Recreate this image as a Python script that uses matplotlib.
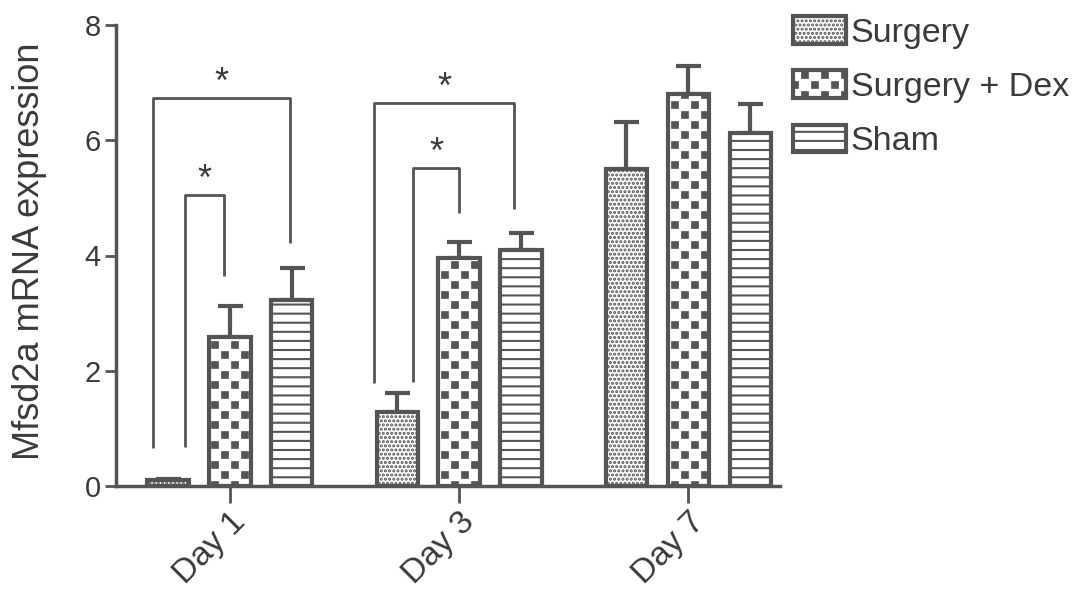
import warnings
import numpy as np
import matplotlib
matplotlib.use("Agg")
import matplotlib.pyplot as plt
import matplotlib.hatch as mhatch
import matplotlib.transforms as mtransforms
from matplotlib.path import Path

warnings.filterwarnings("ignore")

plt.rcParams.update({"font.family": ["Liberation Sans", "DejaVu Sans"],
                     "hatch.linewidth": 1.5})

days = ["Day 1", "Day 3", "Day 7"]
groups = ["Surgery", "Surgery + Dex", "Sham"]
surgery = [0.10, 1.29, 5.50]
surgery_err = [0.03, 0.32, 0.82]
dex = [2.58, 3.96, 6.80]
dex_err = [0.55, 0.28, 0.49]
sham = [3.23, 4.10, 6.13]
sham_err = [0.56, 0.29, 0.50]

# significance brackets: day, left x, right x (offset in group), left foot, top, right foot
brackets = [(0, -0.336, 0.26, 0.66, 6.74, 4.22),
            (0, -0.196, -0.026, 0.68, 5.05, 3.65),
            (1, -0.37, 0.24, 1.79, 6.65, 4.81),
            (1, -0.20, 0.0, 1.80, 5.52, 4.74)]

GRAY = "#545454"
TXT = "#3a3a3a"


class CheckerHatch(mhatch.HatchPatternBase):
    # checkerboard of small squares, picked by '#'
    def __init__(self, hatch, density):
        self.n = 10 if "#" in hatch else 0
        self.num_vertices = (self.n * self.n // 2) * 5

    def set_vertices_and_codes(self, vertices, codes):
        n = self.n
        cell = 1.0 / n
        h = 0.28 * cell
        k = 0
        for i in range(n):
            for j in range(n):
                if (i + j) % 2:
                    continue
                cx, cy = (i + 0.5) * cell, (j + 0.5) * cell
                vertices[k:k + 5] = [[cx - h, cy - h], [cx + h, cy - h],
                                     [cx + h, cy + h], [cx - h, cy + h],
                                     [cx - h, cy - h]]
                codes[k:k + 5] = [Path.MOVETO, Path.LINETO, Path.LINETO,
                                  Path.LINETO, Path.CLOSEPOLY]
                k += 5


class RuledHatch(mhatch.HatchPatternBase):
    # horizontal lines, 11 per inch, picked by '_'
    def __init__(self, hatch, density):
        self.n = 11 if "_" in hatch else 0
        self.num_vertices = self.n * 2

    def set_vertices_and_codes(self, vertices, codes):
        for i in range(self.n):
            y = (i + 0.5) / self.n
            vertices[2 * i:2 * i + 2] = [[0.0, y], [1.0, y]]
            codes[2 * i:2 * i + 2] = [Path.MOVETO, Path.LINETO]


mhatch._hatch_types.extend([CheckerHatch, RuledHatch])

fig = plt.figure(figsize=(10.87, 6.01), dpi=100)
ax = fig.add_axes([116 / 1087, 1 - 486 / 601, 664 / 1087, 461 / 601])

x = np.arange(len(days))
offsets = [-0.27, 0.0, 0.27]
hatches = ["....", "#", "_"]
width = 0.18
for vals, errs, off, hatch, lab in zip([surgery, dex, sham],
                                       [surgery_err, dex_err, sham_err],
                                       offsets, hatches, groups):
    ax.errorbar(x + off, vals, yerr=[np.zeros(len(errs)), errs], fmt="none",
                ecolor=GRAY, elinewidth=3, capsize=9, capthick=3, zorder=1)
    ax.bar(x + off, vals, width, color="white", edgecolor=GRAY, linewidth=3,
           hatch=hatch, label=lab, zorder=2)

for d, xl, xr, yl, yt, yr in brackets:
    ax.plot([d + xl, d + xl, d + xr, d + xr], [yl, yt, yt, yr],
            color=GRAY, lw=2, solid_capstyle="butt", zorder=3)
    ax.text(d + (xl + xr) / 2, yt - 0.06, "*", ha="center", va="bottom",
            fontsize=26, color=TXT)

ax.set_xlim(-0.497, 2.40)
ax.set_ylim(0, 8)
ax.set_yticks([0, 2, 4, 6, 8])
ax.set_xticks(x)
ax.set_xticklabels(days, rotation=45, ha="right", rotation_mode="anchor")
shift = mtransforms.ScaledTranslation(-11 / 100, 2 / 100, fig.dpi_scale_trans)
for lbl in ax.get_xticklabels():
    lbl.set_transform(lbl.get_transform() + shift)
ax.tick_params(axis="y", length=8, width=2, color=GRAY, labelsize=21,
               labelcolor=TXT, pad=3)
ax.tick_params(axis="x", length=12, width=2, color=GRAY, labelsize=24,
               labelcolor=TXT, pad=3)
for s in ["top", "right"]:
    ax.spines[s].set_visible(False)
for s in ["left", "bottom"]:
    ax.spines[s].set_color(GRAY)
    ax.spines[s].set_linewidth(2.5)
ax.set_ylabel("Mfsd2a mRNA expression", fontsize=26, color=TXT)
ax.yaxis.set_label_coords(-0.104, 0.51)

fig.legend(loc="upper left", bbox_to_anchor=(793 / 1087, 1 - 16 / 601),
           frameon=False, fontsize=24.5, handlelength=1.55, handleheight=0.87,
           handletextpad=0.15, labelspacing=0.64, borderpad=0,
           borderaxespad=0, labelcolor=TXT)

fig.savefig("out.png", dpi=100)
